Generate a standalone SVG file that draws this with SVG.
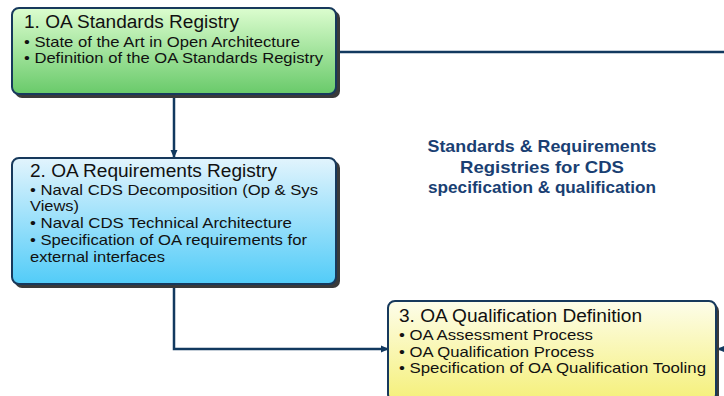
<svg xmlns="http://www.w3.org/2000/svg" width="724" height="396" viewBox="0 0 724 396">
  <defs>
    <linearGradient id="gGreen" x1="0" y1="0" x2="0" y2="1">
      <stop offset="0" stop-color="#dcfdcf"/>
      <stop offset="1" stop-color="#69ca6a"/>
    </linearGradient>
    <linearGradient id="gBlue" x1="0" y1="0" x2="0" y2="1">
      <stop offset="0" stop-color="#e2f4fd"/>
      <stop offset="1" stop-color="#52ccf8"/>
    </linearGradient>
    <linearGradient id="gYellow" x1="0" y1="0" x2="0" y2="1">
      <stop offset="0" stop-color="#fdfdea"/>
      <stop offset="1" stop-color="#f5f07a"/>
    </linearGradient>
    <marker id="arrow" markerWidth="8" markerHeight="8" refX="7" refY="4" orient="auto" markerUnits="userSpaceOnUse">
      <path d="M0,0.5 L8,4 L0,7.5 z" fill="#12395f"/>
    </marker>
  </defs>
  <style>
    .shadow { fill: #3a3a3a; }
    .box { stroke: #17395c; stroke-width: 2; }
    .title { font-family: "Liberation Sans", Arial, sans-serif; font-size: 18px; fill: #111; }
    .item { font-family: "Liberation Sans", Arial, sans-serif; font-size: 14.5px; fill: #111; }
    .caption { font-family: "Liberation Sans", Arial, sans-serif; font-size: 16.5px; font-weight: bold; fill: #1a3f73; text-anchor: middle; }
    .wire { fill: none; stroke: #12395f; stroke-width: 2.5; }
  </style>

  <rect width="724" height="396" fill="#ffffff"/>

  <!-- connectors -->
  <g id="connectors">
    <line class="wire" x1="174" y1="96" x2="174" y2="157" marker-end="url(#arrow)"/>
    <polyline class="wire" points="174,286 174,349 388,349" marker-end="url(#arrow)"/>
    <line class="wire" x1="338" y1="52" x2="724" y2="52"/>
    <line class="wire" x1="730" y1="349" x2="718" y2="349" marker-end="url(#arrow)"/>
  </g>

  <!-- 1. OA Standards Registry -->
  <g id="node-standards">
    <rect class="shadow" x="15" y="11" width="325" height="87" rx="7"/>
    <rect class="box" x="12" y="8" width="324" height="86" rx="7" fill="url(#gGreen)"/>
    <text class="title" x="24" y="28" textLength="215" lengthAdjust="spacingAndGlyphs">1. OA Standards Registry</text>
    <text class="item" x="24" y="47" textLength="276" lengthAdjust="spacingAndGlyphs">• State of the Art in Open Architecture</text>
    <text class="item" x="24" y="63" textLength="299" lengthAdjust="spacingAndGlyphs">• Definition of the OA Standards Registry</text>
  </g>

  <!-- 2. OA Requirements Registry -->
  <g id="node-requirements">
    <rect class="shadow" x="15" y="161" width="325" height="127" rx="7"/>
    <rect class="box" x="12" y="158" width="324" height="126" rx="7" fill="url(#gBlue)"/>
    <text class="title" x="30" y="177" textLength="247" lengthAdjust="spacingAndGlyphs">2. OA Requirements Registry</text>
    <text class="item" x="30" y="195" textLength="288" lengthAdjust="spacingAndGlyphs">• Naval CDS Decomposition (Op &amp; Sys</text>
    <text class="item" x="30" y="211" textLength="49" lengthAdjust="spacingAndGlyphs">Views)</text>
    <text class="item" x="30" y="228" textLength="262" lengthAdjust="spacingAndGlyphs">• Naval CDS Technical Architecture</text>
    <text class="item" x="30" y="245" textLength="277" lengthAdjust="spacingAndGlyphs">• Specification of OA requirements for</text>
    <text class="item" x="30" y="262" textLength="135" lengthAdjust="spacingAndGlyphs">external interfaces</text>
  </g>

  <!-- 3. OA Qualification Definition -->
  <g id="node-qualification">
    <rect class="shadow" x="391" y="304" width="328" height="100" rx="7"/>
    <rect class="box" x="388" y="301" width="328" height="100" rx="7" fill="url(#gYellow)"/>
    <text class="title" x="399" y="322" textLength="243" lengthAdjust="spacingAndGlyphs">3. OA Qualification Definition</text>
    <text class="item" x="399" y="340" textLength="194" lengthAdjust="spacingAndGlyphs">• OA Assessment Process</text>
    <text class="item" x="399" y="357" textLength="195" lengthAdjust="spacingAndGlyphs">• OA Qualification Process</text>
    <text class="item" x="399" y="373" textLength="307" lengthAdjust="spacingAndGlyphs">• Specification of OA Qualification Tooling</text>
  </g>

  <!-- caption -->
  <g id="caption">
    <text class="caption" x="542" y="152" textLength="229" lengthAdjust="spacingAndGlyphs">Standards &amp; Requirements</text>
    <text class="caption" x="542" y="173" textLength="164" lengthAdjust="spacingAndGlyphs">Registries for CDS</text>
    <text class="caption" x="542" y="193" textLength="228" lengthAdjust="spacingAndGlyphs">specification &amp; qualification</text>
  </g>
</svg>
